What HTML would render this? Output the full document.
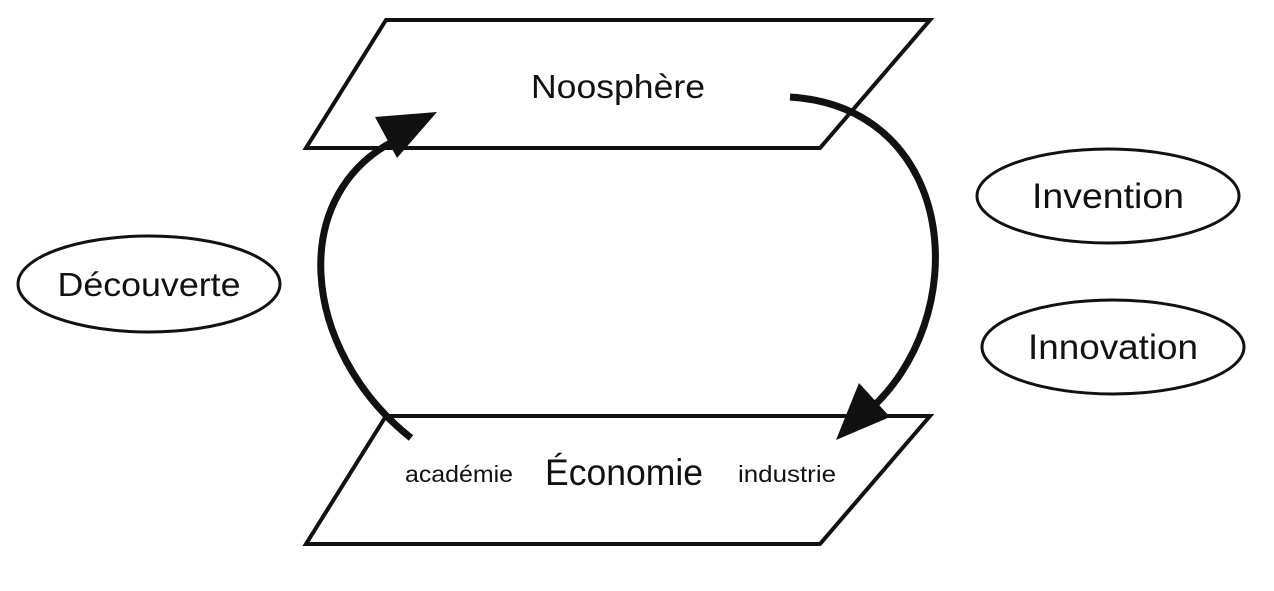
<!DOCTYPE html>
<html><head><meta charset="utf-8"><style>
body{margin:0;background:#fff}
svg text{font-family:"Liberation Sans",sans-serif;fill:#111}
</style></head><body>
<svg width="1274" height="586" viewBox="0 0 1274 586" xmlns="http://www.w3.org/2000/svg">
<g fill="none" stroke="#111" stroke-width="4">
<polygon points="386,20 930,20 820,148 306,148"/>
<polygon points="386,416 930,416 820,544 306,544"/>
<ellipse cx="149" cy="284" rx="131" ry="48" stroke-width="3"/>
<ellipse cx="1108" cy="196" rx="131" ry="47" stroke-width="3"/>
<ellipse cx="1113" cy="347" rx="131" ry="47" stroke-width="3"/>
<path d="M411,438 C300,350 285,190 402,137" stroke-width="7"/>
<path d="M790,97 C960,108 975,320 866,413" stroke-width="7"/>
</g>
<polygon points="437,112 375,117 397,158" fill="#111"/>
<polygon points="836,440 859,383 890,417" fill="#111"/>
<g text-anchor="middle">
<text x="618" y="98" font-size="33" textLength="174" lengthAdjust="spacingAndGlyphs">Noosphère</text>
<text x="624" y="485" font-size="37" textLength="158" lengthAdjust="spacingAndGlyphs">Économie</text>
<text x="459" y="482" font-size="23" textLength="108" lengthAdjust="spacingAndGlyphs">académie</text>
<text x="787" y="482" font-size="23" textLength="98" lengthAdjust="spacingAndGlyphs">industrie</text>
<text x="149" y="296" font-size="33" textLength="183" lengthAdjust="spacingAndGlyphs">Découverte</text>
<text x="1108" y="208" font-size="35" textLength="152" lengthAdjust="spacingAndGlyphs">Invention</text>
<text x="1113" y="359" font-size="35" textLength="170" lengthAdjust="spacingAndGlyphs">Innovation</text>
</g>
</svg>
</body></html>
